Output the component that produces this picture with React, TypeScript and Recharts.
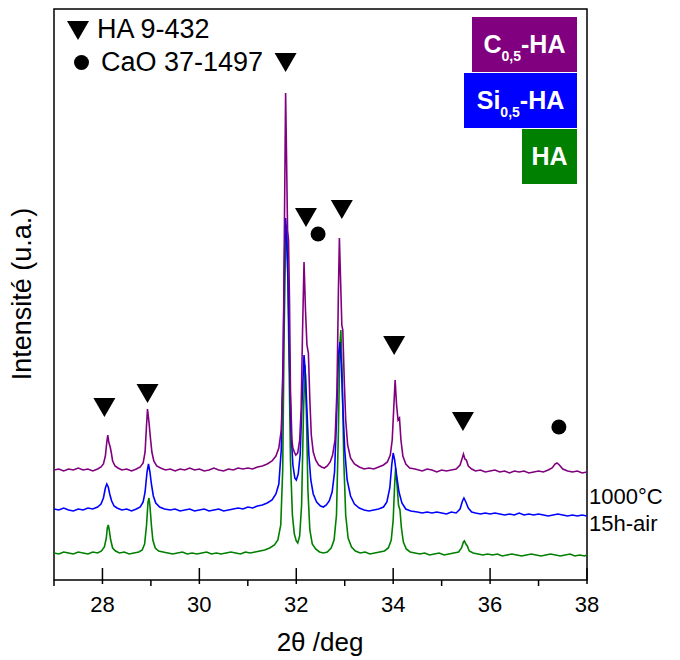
import React from "react";
import { ComposedChart, Line, Scatter, XAxis, YAxis, ReferenceArea } from "recharts";

// 2θ (deg), intensity (u.a., already stacked/offset as plotted)
const purpleC05HA: [number, number][] = [
  [27.0,110],[27.1,111],[27.2,109],[27.3,111],[27.4,110],[27.5,112],[27.6,110],[27.7,111],[27.8,109],[27.9,111],
  [27.97,113],[28.02,116],[28.06,124],[28.09,138],[28.11,145],[28.13,138],[28.16,133],[28.18,128],[28.21,119],[28.26,114],
  [28.32,112],[28.4,110],[28.5,111],[28.6,109],[28.7,111],[28.78,113],[28.84,117],[28.88,128],[28.91,155],[28.93,171],
  [28.96,158],[28.99,142],[29.02,128],[29.06,119],[29.12,114],[29.2,112],[29.3,110],[29.4,111],[29.5,109],[29.6,111],
  [29.7,110],[29.8,112],[29.9,110],[30.0,111],[30.1,109],[30.2,110],[30.3,112],[30.4,110],[30.5,109],[30.6,111],
  [30.7,110],[30.8,112],[30.9,111],[31.0,112],[31.1,111],[31.2,113],[31.3,114],[31.4,116],[31.5,119],[31.58,124],
  [31.64,132],[31.69,150],[31.73,210],[31.76,380],[31.78,487],[31.8,420],[31.82,350],[31.84,340],[31.86,280],[31.88,190],
  [31.91,140],[31.93,132],[31.96,128],[31.99,125],[32.03,127],[32.07,140],[32.1,170],[32.13,250],[32.16,318],[32.19,270],
  [32.22,235],[32.25,227],[32.28,180],[32.31,145],[32.35,128],[32.4,120],[32.46,115],[32.52,113],[32.58,112],[32.64,114],
  [32.7,118],[32.75,125],[32.8,140],[32.84,190],[32.87,290],[32.89,342],[32.92,290],[32.94,255],[32.96,250],[32.99,200],
  [33.02,160],[33.06,135],[33.12,122],[33.2,116],[33.3,113],[33.4,111],[33.5,112],[33.6,111],[33.7,113],[33.8,115],
  [33.88,118],[33.94,125],[33.98,140],[34.01,170],[34.04,200],[34.07,175],[34.1,160],[34.13,162],[34.16,140],[34.2,124],
  [34.26,116],[34.34,112],[34.45,111],[34.6,109],[34.7,111],[34.8,110],[34.9,108],[35.0,110],[35.1,109],[35.2,110],
  [35.3,111],[35.38,115],[35.42,121],[35.45,126],[35.48,121],[35.51,120],[35.55,114],[35.62,111],[35.7,109],[35.8,110],
  [35.9,108],[36.0,109],[36.1,110],[36.2,108],[36.3,109],[36.4,107],[36.5,109],[36.6,108],[36.7,109],[36.8,107],
  [36.9,108],[37.0,109],[37.1,108],[37.2,110],[37.28,112],[37.34,116],[37.38,117],[37.43,115],[37.5,111],[37.6,109],
  [37.7,108],[37.8,109],[37.9,107],[38.0,108],
];

const blueSi05HA: [number, number][] = [
  [27.0,71],[27.1,70],[27.2,72],[27.3,70],[27.4,69],[27.5,71],[27.6,70],[27.7,72],[27.8,71],[27.9,73],
  [27.97,76],[28.02,82],[28.06,92],[28.09,96],[28.12,93],[28.15,86],[28.19,79],[28.24,74],[28.3,72],[28.4,70],
  [28.5,71],[28.6,69],[28.7,71],[28.78,73],[28.84,78],[28.88,88],[28.92,108],[28.95,116],[28.98,108],[29.01,96],
  [29.05,84],[29.1,77],[29.18,73],[29.28,71],[29.4,70],[29.5,71],[29.6,69],[29.7,70],[29.8,71],[29.9,69],
  [30.0,70],[30.1,71],[30.2,69],[30.3,70],[30.4,71],[30.5,69],[30.6,70],[30.7,71],[30.8,72],[30.9,71],
  [31.0,73],[31.1,72],[31.2,74],[31.3,75],[31.4,77],[31.5,80],[31.58,86],[31.64,96],[31.69,130],[31.73,230],
  [31.76,330],[31.78,362],[31.8,345],[31.83,300],[31.86,220],[31.89,150],[31.93,115],[31.97,102],[32.0,100],[32.04,106],
  [32.08,125],[32.12,180],[32.16,225],[32.19,205],[32.22,170],[32.26,125],[32.3,100],[32.35,86],[32.42,78],[32.5,74],
  [32.56,73],[32.62,75],[32.68,79],[32.74,88],[32.79,108],[32.83,160],[32.87,225],[32.9,238],[32.93,215],[32.96,175],
  [33.0,130],[33.05,100],[33.12,84],[33.2,76],[33.3,72],[33.4,70],[33.5,69],[33.6,70],[33.7,71],[33.8,73],
  [33.87,78],[33.93,92],[33.97,115],[34.0,127],[34.03,120],[34.07,105],[34.12,88],[34.18,77],[34.26,71],[34.36,69],
  [34.5,68],[34.6,67],[34.7,68],[34.8,67],[34.9,68],[35.0,67],[35.1,66],[35.2,68],[35.3,67],[35.38,71],
  [35.43,79],[35.46,82],[35.5,78],[35.55,72],[35.62,68],[35.7,67],[35.8,66],[35.9,67],[36.0,66],[36.1,67],
  [36.2,66],[36.3,65],[36.4,66],[36.5,65],[36.6,67],[36.7,65],[36.8,66],[36.9,65],[37.0,66],[37.1,65],
  [37.2,64],[37.3,65],[37.4,66],[37.5,65],[37.6,64],[37.7,65],[37.8,64],[37.9,65],[38.0,64],
];

const greenHA: [number, number][] = [
  [27.0,27],[27.1,26],[27.2,28],[27.3,27],[27.4,26],[27.5,28],[27.6,27],[27.7,26],[27.8,28],[27.9,27],
  [27.98,29],[28.04,33],[28.08,42],[28.1,52],[28.12,55],[28.14,50],[28.17,40],[28.21,32],[28.27,29],[28.35,27],
  [28.45,28],[28.55,26],[28.65,27],[28.75,28],[28.82,30],[28.87,36],[28.91,55],[28.94,78],[28.96,82],[28.98,74],
  [29.01,55],[29.04,40],[29.09,32],[29.16,29],[29.25,28],[29.35,27],[29.45,26],[29.55,27],[29.65,28],[29.75,26],
  [29.85,27],[29.95,26],[30.05,27],[30.15,28],[30.25,26],[30.35,27],[30.45,26],[30.55,27],[30.65,28],[30.75,27],
  [30.85,26],[30.95,28],[31.05,27],[31.15,28],[31.25,29],[31.35,30],[31.45,32],[31.55,35],[31.62,40],[31.68,55],
  [31.72,110],[31.75,250],[31.78,340],[31.8,355],[31.82,320],[31.85,220],[31.88,120],[31.92,65],[31.96,46],[32.0,39],
  [32.03,37],[32.07,44],[32.11,75],[32.15,170],[32.18,215],[32.21,165],[32.24,90],[32.28,50],[32.33,36],[32.4,31],
  [32.48,28],[32.56,27],[32.64,28],[32.72,32],[32.78,40],[32.83,65],[32.87,150],[32.9,235],[32.92,250],[32.95,200],
  [32.98,120],[33.02,65],[33.07,42],[33.14,33],[33.22,29],[33.32,27],[33.42,28],[33.52,26],[33.62,27],[33.72,28],
  [33.82,29],[33.9,32],[33.96,40],[34.0,60],[34.03,95],[34.05,112],[34.08,95],[34.11,75],[34.14,70],[34.17,52],
  [34.21,38],[34.27,31],[34.35,28],[34.45,27],[34.55,26],[34.65,27],[34.75,25],[34.85,26],[34.95,27],[35.05,25],
  [35.15,26],[35.25,27],[35.35,28],[35.41,32],[35.45,38],[35.47,39],[35.5,36],[35.53,34],[35.57,29],[35.65,27],
  [35.75,26],[35.85,25],[35.95,26],[36.05,25],[36.15,26],[36.25,24],[36.35,25],[36.45,26],[36.55,25],[36.65,24],
  [36.75,25],[36.85,26],[36.95,25],[37.05,24],[37.15,25],[37.25,26],[37.35,25],[37.45,24],[37.55,25],[37.65,26],
  [37.75,24],[37.85,25],[37.95,24],[38.0,25],
];

// Phase markers: HA 9-432 (triangles), CaO 37-1497 (circles)
const haMarkers: [number, number][] = [
  [28.04,173],[28.93,187],[31.78,518],[32.2,363],[32.94,371],[34.02,235],[35.44,159],
];
const caoMarkers: [number, number][] = [
  [32.45,346],[37.42,153],
];

const xTicks = [27, 28, 29, 30, 31, 32, 33, 34, 35, 36, 37, 38];
const yMax = 571;

const toRows = (arr: [number, number][]) => arr.map(([x, y]) => ({ x, y }));

const FONT = "'Liberation Sans', Arial, sans-serif";

const XTick = (props: any) => {
  const { x, y, payload } = props;
  const v = payload.value as number;
  const major = v % 2 === 0;
  return (
    <g>
      {major ? (
        <line x1={x} x2={x} y1={y - 12} y2={y + 4} stroke="#000" strokeWidth={1.5} />
      ) : (
        <line x1={x} x2={x} y1={y} y2={y + 6} stroke="#000" strokeWidth={1.5} />
      )}
      {major && (
        <text x={x} y={y + 32} textAnchor="middle" fontSize={22} fontFamily={FONT} fill="#000">
          {v}
        </text>
      )}
    </g>
  );
};

const Tri = (p: any) => (
  <path d={`M${p.cx - 11},${p.cy - 9} L${p.cx + 11},${p.cy - 9} L${p.cx},${p.cy + 10} Z`} fill="#000" />
);
const Dot = (p: any) => <circle cx={p.cx} cy={p.cy} r={7.5} fill="#000" />;

const abs = (left: number, top: number, extra: React.CSSProperties = {}): React.CSSProperties => ({
  position: "absolute",
  left,
  top,
  fontFamily: FONT,
  lineHeight: 1,
  whiteSpace: "nowrap",
  ...extra,
});

const boxStyle = (left: number, top: number, w: number, bg: string): React.CSSProperties => ({
  position: "absolute",
  left,
  top,
  width: w,
  height: 55,
  background: bg,
  color: "#fff",
  fontFamily: FONT,
  fontWeight: "bold",
  fontSize: 25,
  display: "flex",
  alignItems: "center",
  justifyContent: "center",
  whiteSpace: "nowrap",
});

const Sub = ({ children }: { children: React.ReactNode }) => (
  <span style={{ fontSize: 14, position: "relative", top: 8 }}>{children}</span>
);

export default function App() {
  return (
    <div style={{ position: "absolute", left: 0, top: 0, width: 680, height: 660, background: "#fff" }}>
      <ComposedChart width={680} height={660} margin={{ top: 9, right: 93, bottom: 0, left: 54 }}>
        <XAxis
          type="number"
          dataKey="x"
          domain={[27, 38]}
          ticks={xTicks}
          interval={0}
          allowDataOverflow
          height={80}
          tickSize={0}
          tickMargin={0}
          axisLine={false}
          tickLine={false}
          tick={<XTick />}
        />
        <YAxis type="number" dataKey="y" domain={[0, yMax]} hide allowDataOverflow />
        <Line data={toRows(greenHA)} dataKey="y" stroke="#008000" strokeWidth={1.6} dot={false} isAnimationActive={false} type="linear" />
        <Line data={toRows(blueSi05HA)} dataKey="y" stroke="#0000FF" strokeWidth={1.6} dot={false} isAnimationActive={false} type="linear" />
        <Line data={toRows(purpleC05HA)} dataKey="y" stroke="#800080" strokeWidth={1.6} dot={false} isAnimationActive={false} type="linear" />
        <Scatter data={toRows(haMarkers)} dataKey="y" shape={<Tri />} isAnimationActive={false} />
        <Scatter data={toRows(caoMarkers)} dataKey="y" shape={<Dot />} isAnimationActive={false} />
        <ReferenceArea x1={27} x2={38} y1={0} y2={yMax} fill="none" stroke="#000" strokeWidth={1.5} />
      </ComposedChart>

      {/* phase legend */}
      <svg style={{ position: "absolute", left: 65, top: 19 }} width={26} height={24}>
        <path d="M2,2 L24,2 L13,21 Z" fill="#000" />
      </svg>
      <div style={abs(97, 16, { fontSize: 27 })}>HA 9-432</div>
      <svg style={{ position: "absolute", left: 73, top: 54 }} width={17} height={17}>
        <circle cx={8.5} cy={8.5} r={7.5} fill="#000" />
      </svg>
      <div style={abs(101, 49, { fontSize: 27 })}>CaO 37-1497</div>

      {/* sample legend boxes */}
      <div style={boxStyle(472, 17, 105, "#800080")}>
        <span>C<Sub>0,5</Sub>-HA</span>
      </div>
      <div style={boxStyle(464, 73, 113, "#0000FF")}>
        <span>Si<Sub>0,5</Sub>-HA</span>
      </div>
      <div style={boxStyle(522, 129, 55, "#008000")}>
        <span>HA</span>
      </div>

      {/* condition labels */}
      <div style={abs(589, 486, { fontSize: 22 })}>1000°C</div>
      <div style={abs(589, 513, { fontSize: 22 })}>15h-air</div>

      {/* axis titles */}
      <div style={abs(22, 294, { fontSize: 27, transform: "translate(-50%, -50%) rotate(-90deg)" })}>Intensité (u.a.)</div>
      <div style={abs(320, 642, { fontSize: 26, transform: "translate(-50%, -50%)" })}>2θ /deg</div>
    </div>
  );
}
